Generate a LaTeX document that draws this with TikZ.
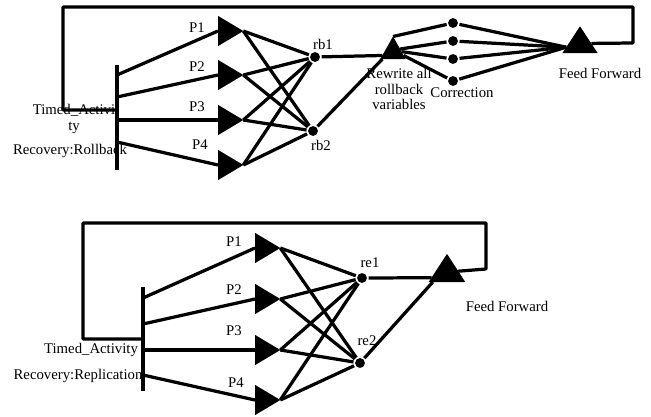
\documentclass[tikz,border=0pt]{standalone}
\usepackage{fontspec}
\setmainfont{Liberation Serif}
\usetikzlibrary{shapes.geometric}

\begin{document}
\begin{tikzpicture}[x=0.025cm,y=-0.025cm,line width=2.3pt,line join=round,
  every node/.style={font=\fontsize{10.5}{11}\selectfont},
  ptri/.style={isosceles triangle,isosceles triangle stretches,fill,inner sep=0pt,outer sep=0pt,minimum width=21.5pt,minimum height=18pt},
  utri/.style={ptri,shape border rotate=90,minimum width=25pt,minimum height=19pt},
  dot/.style={circle,fill,inner sep=0pt,minimum size=7pt}]
  \useasboundingbox (0,0) rectangle (651,416);

  % rollback net
  \coordinate (bt1) at (117,65);
  \coordinate (bb1) at (117,170);
  \coordinate (j1) at (117,110);
  \coordinate (s11) at (117,75);
  \coordinate (s12) at (117,97);
  \coordinate (s13) at (117,120);
  \coordinate (s14) at (117,142);
  \node[ptri,anchor=lower side] (pa1) at (218,31) {};
  \node[ptri,anchor=lower side] (pa2) at (218,75) {};
  \node[ptri,anchor=lower side] (pa3) at (218,120) {};
  \node[ptri,anchor=lower side] (pa4) at (218,165) {};
  \node (lpa1) at (197,28) {P1};
  \node (lpa2) at (197,67) {P2};
  \node (lpa3) at (197,107) {P3};
  \node (lpa4) at (200,145) {P4};
  \node[dot] (rb1) at (315,57) {};
  \node[dot] (rb2) at (313,131) {};
  \node (lrb1) at (323,44) {rb1};
  \node (lrb2) at (321,145) {rb2};
  \node[utri,anchor=lower side,minimum width=18pt,minimum height=16pt] (rw) at (393,59) {};
  \node[dot] (c1) at (453,23) {};
  \node[dot] (c2) at (453,41) {};
  \node[dot] (c3) at (453,59) {};
  \node[dot] (c4) at (453,81) {};
  \node[utri,anchor=lower side] (ffa) at (580,53) {};
  \node[align=center] (ta1) at (74,119) {Timed\_Activi\\ty};
  \node (ra1) at (70,151) {Recovery:Rollback};
  \node[align=center] (lrw) at (399,89) {Rewrite all\\rollback\\variables};
  \node (lcor) at (462,93) {Correction};
  \node (lffa) at (600,73) {Feed Forward};

  \draw (bt1) -- (bb1);
  \draw (s11) -- (pa1.lower side);
  \draw (s12) -- (pa2.lower side);
  \draw (s13) -- (pa3.lower side);
  \draw (s14) -- (pa4.lower side);
  \draw (pa1.apex) -- (rb1);
  \draw (pa1.apex) -- (rb2);
  \draw (pa2.apex) -- (rb1);
  \draw (pa2.apex) -- (rb2);
  \draw (pa3.apex) -- (rb1);
  \draw (pa3.apex) -- (rb2);
  \draw (pa4.apex) -- (rb1);
  \draw (pa4.apex) -- (rb2);
  \draw (rb1) -- (rw.200);
  \draw (rb2) -- (rw.215);
  \draw (rw.apex) -- (c1);
  \draw (rw.20) -- (c2);
  \draw (rw.0) -- (c3);
  \draw (rw.-20) -- (c4);
  \draw (c1) -- (ffa.195);
  \draw (c2) -- (ffa.195);
  \draw (c3) -- (ffa.195);
  \draw (c4) -- (ffa.195);
  \draw (j1) -| (63,7) -| (633,43) -- (ffa);

  % replication net
  \coordinate (bt2) at (143,287);
  \coordinate (bb2) at (143,391);
  \coordinate (j2) at (143,339);
  \coordinate (s21) at (143,298);
  \coordinate (s22) at (143,324);
  \coordinate (s23) at (143,350);
  \coordinate (s24) at (143,375);
  \node[ptri,anchor=lower side] (pb1) at (255,248) {};
  \node[ptri,anchor=lower side] (pb2) at (255,299) {};
  \node[ptri,anchor=lower side] (pb3) at (255,350) {};
  \node[ptri,anchor=lower side] (pb4) at (255,400) {};
  \node (lpb1) at (234,242) {P1};
  \node (lpb2) at (234,290) {P2};
  \node (lpb3) at (234,331) {P3};
  \node (lpb4) at (236,383) {P4};
  \node[dot] (re1) at (362,278) {};
  \node[dot] (re2) at (360,363) {};
  \node (lre1) at (370,263) {re1};
  \node (lre2) at (367,341) {re2};
  \node[utri,anchor=lower side,minimum width=26pt,minimum height=20pt] (ffb) at (447,282) {};
  \node (ta2) at (91,350) {Timed\_Activity};
  \node (ra2) at (78,376) {Recovery:Replication};
  \node (lffb) at (507,306) {Feed Forward};

  \draw (bt2) -- (bb2);
  \draw (s21) -- (pb1.lower side);
  \draw (s22) -- (pb2.lower side);
  \draw (s23) -- (pb3.lower side);
  \draw (s24) -- (pb4.lower side);
  \draw (pb1.apex) -- (re1);
  \draw (pb1.apex) -- (re2);
  \draw (pb2.apex) -- (re1);
  \draw (pb2.apex) -- (re2);
  \draw (pb3.apex) -- (re1);
  \draw (pb3.apex) -- (re2);
  \draw (pb4.apex) -- (re1);
  \draw (pb4.apex) -- (re2);
  \draw (re1) -- (ffb.200);
  \draw (re2) -- (ffb.215);
  \draw (j2) -| (83,223) -| (486,269) -- (ffb);
\end{tikzpicture}
\end{document}
